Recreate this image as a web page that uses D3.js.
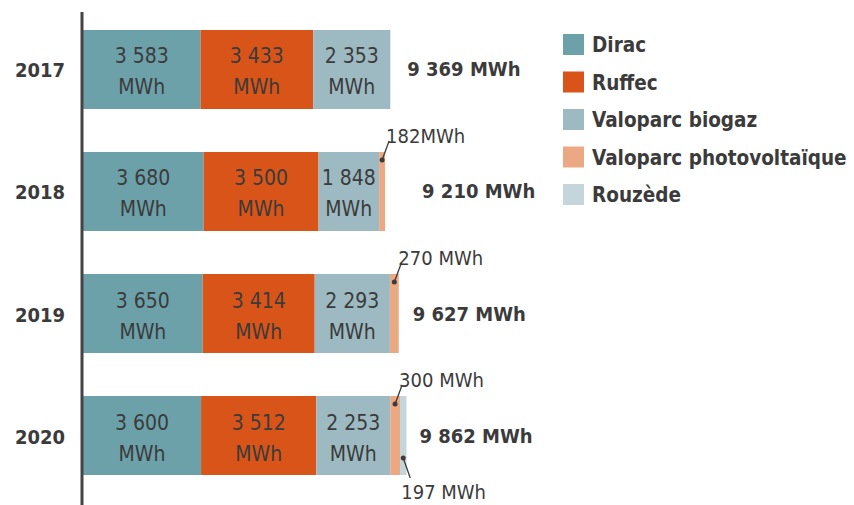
<!DOCTYPE html>
<html>
<head>
<meta charset="utf-8">
<script src="https://cdn.jsdelivr.net/npm/d3@7"></script>
<style>
  body { margin: 0; background: #fff; }
  svg { display: block; font-family: "DejaVu Sans Condensed", "DejaVu Sans", sans-serif; }
</style>
</head>
<body>
<svg id="chart" width="854" height="505"></svg>
<script>
// data
const years = ["2017", "2018", "2019", "2020"];
const dirac = [3583, 3680, 3650, 3600];
const ruffec = [3433, 3500, 3414, 3512];
const biogaz = [2353, 1848, 2293, 2253];
const photovolt = [0, 182, 270, 300];
const rouzede = [0, 0, 0, 197];
const pvLabels = ["", "182MWh", "270 MWh", "300 MWh"];
const rouzedeLabels = ["", "", "", "197 MWh"];

const keys = ["Dirac", "Ruffec", "Valoparc biogaz", "Valoparc photovoltaïque", "Rouzède"];
const colors = ["#6ca1aa", "#d85418", "#9dbac2", "#eba983", "#c5d5dc"];
const series = [dirac, ruffec, biogaz, photovolt, rouzede];

const rows = years.map((y, i) => {
    const r = { year: y };
    keys.forEach((k, j) => r[k] = series[j][i]);
    return r;
});

const fr = d3.formatLocale({ decimal: ",", thousands: "\u00a0", grouping: [3], currency: ["", " €"] });
const fmt = fr.format(",d");

const svg = d3.select("#chart");
const textColor = "#3b3b3b";

/** scales */
const x = d3.scaleLinear().domain([0, 10000]).range([83, 411]);
const y = d3.scaleBand().domain(years).range([30, 475]).paddingInner(0.3525).paddingOuter(0);
const color = d3.scaleOrdinal().domain(keys).range(colors);

const stacked = d3.stack().keys(keys)(rows);

// bars
const layer = svg.append("g")
    .selectAll("g")
    .data(stacked)
    .join("g")
    .attr("fill", d => color(d.key));

layer.selectAll("rect")
    .data(d => d.map(s => Object.assign(s, { key: d.key })))
    .join("rect")
    .attr("x", d => x(d[0]))
    .attr("y", d => y(d.data.year))
    .attr("width", d => x(d[1]) - x(d[0]))
    .attr("height", y.bandwidth());

// labels inside the three large segments
stacked.slice(0, 3).forEach(s => {
    s.forEach(d => {
        const cx = (x(d[0]) + x(d[1])) / 2;
        const cy = y(d.data.year) + y.bandwidth() / 2;
        const t = svg.append("text")
            .attr("text-anchor", "middle")
            .attr("fill", textColor)
            .attr("font-size", 21)
            .attr("font-weight", 300);
        t.append("tspan").attr("x", cx).attr("y", cy - 6).text(fmt(d[1] - d[0]));
        t.append("tspan").attr("x", cx).attr("y", cy + 25).text("MWh");
    });
});

// year labels
svg.append("g")
    .selectAll("text")
    .data(years)
    .join("text")
    .attr("x", 40)
    .attr("y", d => y(d) + y.bandwidth() / 2 + 8)
    .attr("text-anchor", "middle")
    .attr("font-size", 20)
    .attr("font-weight", "bold")
    .attr("fill", textColor)
    .text(d => d);

// totals
const totalGap = [17, 37, 14, 13];
svg.append("g")
    .selectAll("text")
    .data(rows)
    .join("text")
    .attr("x", (d, i) => x(d3.sum(keys, k => d[k])) + totalGap[i])
    .attr("y", d => y(d.year) + y.bandwidth() / 2 + 7)
    .attr("font-size", 20)
    .attr("font-weight", "bold")
    .attr("fill", textColor)
    .text(d => fmt(d3.sum(keys, k => d[k])) + " MWh");

// callouts for the thin segments
function callout(seg, labels, up) {
    seg.forEach((d, i) => {
        if (!labels[i]) return;
        const cx = (x(d[0]) + x(d[1])) / 2;
        const top = y(d.data.year);
        const dy = up ? top + 8 : top + y.bandwidth() - 17;
        const ey = up ? top - 11 : top + y.bandwidth() + 3;
        svg.append("line")
            .attr("x1", cx).attr("y1", dy)
            .attr("x2", cx + 7).attr("y2", ey)
            .attr("stroke", textColor).attr("stroke-width", 1.3);
        svg.append("circle")
            .attr("cx", cx).attr("cy", dy).attr("r", 2.5)
            .attr("fill", textColor);
        svg.append("text")
            .attr("x", up ? cx + 4 : cx - 2)
            .attr("y", up ? top - 9 : top + y.bandwidth() + 24)
            .attr("font-size", 20)
            .attr("font-weight", 300)
            .attr("fill", textColor)
            .text(labels[i]);
    });
}
callout(stacked[3], pvLabels, true);
callout(stacked[4], rouzedeLabels, false);

// vertical axis line
svg.append("line")
    .attr("x1", 82).attr("x2", 82)
    .attr("y1", 12).attr("y2", 505)
    .attr("stroke", "#444").attr("stroke-width", 3);

// legend
const legend = svg.append("g")
    .selectAll("g")
    .data(keys)
    .join("g")
    .attr("transform", (d, i) => `translate(563, ${34 + i * 37.5})`);
legend.append("rect")
    .attr("width", 21).attr("height", 21)
    .attr("fill", d => color(d));
legend.append("text")
    .attr("x", 29).attr("y", 18)
    .attr("font-size", 20.5)
    .attr("font-weight", "bold")
    .attr("fill", textColor)
    .text(d => d);
</script>
</body>
</html>
